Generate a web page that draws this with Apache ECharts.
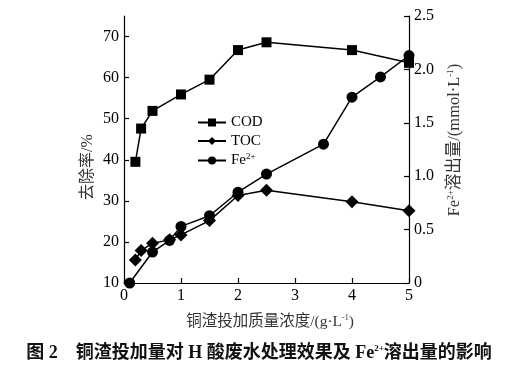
<!DOCTYPE html>
<html><head><meta charset="utf-8">
<script src="https://cdn.jsdelivr.net/npm/echarts@6/dist/echarts.min.js"></script>
<style>html,body{margin:0;padding:0;background:#fff}#c{width:532px;height:375px}</style>
</head><body><div id="c"></div>
<script>
const codX = [0.2, 0.3, 0.5, 1.0, 1.5, 2.0, 2.5, 4.0, 5.0];
const codY = [39.5, 47.6, 51.9, 55.9, 59.5, 66.7, 68.6, 66.7, 63.6];
const tocX = [0.2, 0.3, 0.5, 0.8, 1.0, 1.5, 2.0, 2.5, 4.0, 5.0];
const tocY = [15.6, 17.9, 19.7, 20.5, 21.7, 25.2, 31.3, 32.6, 29.8, 27.6];
const feX = [0.1, 0.5, 0.8, 1.0, 1.5, 2.0, 2.5, 3.5, 4.0, 4.5, 5.0];
const feY = [0.0, 0.29, 0.40, 0.53, 0.63, 0.85, 1.02, 1.30, 1.74, 1.93, 2.13];
const leftTicks = [10, 20, 30, 40, 50, 60, 70];
const rightTicks = [0, 0.5, 1.0, 1.5, 2.0, 2.5];
const xTicks = [0, 1, 2, 3, 4, 5];

const FONT = '"Liberation Serif", "Times New Roman", "Noto Sans CJK SC", serif';
const zip = (a, b) => a.map((v, i) => [v, b[i]]);
const chart = echarts.init(document.getElementById('c'));
const axisCommon = {
  axisLine: { show: true, lineStyle: { color: '#000', width: 1.2 } },
  axisTick: { show: true, inside: true, length: 5, lineStyle: { color: '#000', width: 1.2 } },
  splitLine: { show: false },
  axisLabel: { color: '#000', fontFamily: FONT, fontSize: 16 }
};
const supRich = (size, col) => ({ sup: { fontSize: size, verticalAlign: 'top', padding: [0, 0, 8, 0], fontFamily: FONT, fill: col, color: col } });
chart.setOption({
  animation: false,
  backgroundColor: '#fff',
  grid: { left: 124, right: 123, top: 16, bottom: 92 },
  legend: {
    orient: 'vertical', left: 192, top: 110, itemGap: 3.5, itemWidth: 28, itemHeight: 10,
    textStyle: { color: '#000', fontFamily: FONT, fontSize: 15, rich: supRich(9, '#000') },
    formatter: n => n === 'Fe2+' ? 'Fe{sup|2+}' : n,
    data: ['COD', 'TOC', 'Fe2+']
  },
  xAxis: Object.assign({}, axisCommon, {
    type: 'value', min: 0, max: 5, interval: 1,
    axisLabel: Object.assign({}, axisCommon.axisLabel, { margin: 5, customValues: xTicks }),
    axisTick: Object.assign({}, axisCommon.axisTick, { customValues: xTicks })
  }),
  yAxis: [
    Object.assign({}, axisCommon, {
      type: 'value', min: 10, max: 75, position: 'left',
      axisLabel: Object.assign({}, axisCommon.axisLabel, { margin: 5, customValues: leftTicks }),
      axisTick: Object.assign({}, axisCommon.axisTick, { customValues: leftTicks })
    }),
    Object.assign({}, axisCommon, {
      type: 'value', min: 0, max: 2.5, interval: 0.5, position: 'right',
      axisLabel: Object.assign({}, axisCommon.axisLabel, { margin: 5,
        formatter: v => v === 0 ? '0' : v.toFixed(1) })
    })
  ],
  series: [
    { name: 'COD', type: 'line', data: zip(codX, codY), symbol: 'rect', symbolSize: 10,
      lineStyle: { color: '#000', width: 1.5 }, itemStyle: { color: '#000' } },
    { name: 'TOC', type: 'line', data: zip(tocX, tocY), symbol: 'diamond', symbolSize: 13,
      lineStyle: { color: '#000', width: 1.5 }, itemStyle: { color: '#000' } },
    { name: 'Fe2+', type: 'line', yAxisIndex: 1, data: zip(feX, feY), symbol: 'circle', symbolSize: 11,
      lineStyle: { color: '#000', width: 1.5 }, itemStyle: { color: '#000' } }
  ],
  graphic: [
    { type: 'text', x: 88, y: 167, rotation: Math.PI / 2,
      style: { text: '去除率/%', fill: '#333', align: 'center', verticalAlign: 'middle',
        font: '16px "Liberation Serif", "Noto Sans CJK SC", sans-serif' } },
    { type: 'text', x: 455, y: 140, rotation: Math.PI / 2,
      style: { text: 'Fe{sup|2+}溶出量/(mmol·L{sup|-1})', fill: '#333', align: 'center', verticalAlign: 'middle',
        font: '16.5px "Liberation Serif", "Noto Sans CJK SC", sans-serif', rich: supRich(9, '#333') } },
    { type: 'text', x: 270, y: 322,
      style: { text: '铜渣投加质量浓度/(g·L{sup|-1})', fill: '#333', align: 'center', verticalAlign: 'middle',
        font: '15.5px "Liberation Serif", "Noto Sans CJK SC", sans-serif', rich: supRich(8, '#333') } },
    { type: 'text', x: 259, y: 353,
      style: { text: '图 2　铜渣投加量对 H 酸废水处理效果及 Fe{sup|2+}溶出量的影响',
        fill: '#111', align: 'center', verticalAlign: 'middle',
        font: 'bold 18px "Liberation Serif", "Noto Sans CJK SC", sans-serif',
        rich: { sup: { fontSize: 9, fontWeight: 'bold', verticalAlign: 'top', padding: [0, 0, 9, 0], fill: '#111', fontFamily: FONT } } } }
  ]
});
</script></body></html>
